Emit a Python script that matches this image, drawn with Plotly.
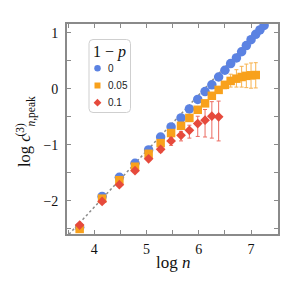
import plotly.graph_objects as go

# ---------------- data ----------------
log_n = [3.72, 4.15, 4.48, 4.78, 5.04, 5.27, 5.47, 5.66, 5.82, 5.98, 6.12,
         6.25, 6.38, 6.50, 6.61, 6.72, 6.82, 6.91, 7.00, 7.09, 7.17, 7.25]

p0_y = [-2.47, -1.92, -1.58, -1.33, -1.09, -0.86, -0.68, -0.52, -0.36, -0.19,
        -0.05, 0.07, 0.21, 0.33, 0.45, 0.55, 0.66, 0.77, 0.875, 0.97, 1.05, 1.13]

p005_y = [-2.50, -1.96, -1.63, -1.39, -1.16, -0.97, -0.79, -0.66, -0.52, -0.375,
          -0.26, -0.125, -0.02, 0.07, 0.14, 0.18, 0.21, 0.23, 0.24, 0.245]
p005_err_up = [0.02, 0.02, 0.02, 0.02, 0.02, 0.02, 0.02, 0.02, 0.02, 0.02,
               0.03, 0.03, 0.04, 0.06, 0.12, 0.16, 0.19, 0.21, 0.22, 0.22]
p005_err_dn = [0.02, 0.02, 0.02, 0.02, 0.02, 0.02, 0.02, 0.02, 0.02, 0.02,
               0.03, 0.03, 0.04, 0.07, 0.11, 0.15, 0.18, 0.21, 0.23, 0.23]

p01_y = [-2.43, -2.01, -1.71, -1.46, -1.25, -1.08, -0.93, -0.83, -0.74, -0.62,
         -0.56, -0.49, -0.50]
p01_err_up = [0.02, 0.02, 0.02, 0.03, 0.03, 0.04, 0.06, 0.07, 0.09, 0.13, 0.19, 0.26, 0.28]
p01_err_dn = [0.02, 0.02, 0.02, 0.03, 0.03, 0.05, 0.08, 0.10, 0.14, 0.23, 0.30, 0.39, 0.43]

fit_slope = 1.0
fit_intercept = -6.11
fit_x = [3.45, 7.6]

legend_labels = ["0", "0.05", "0.1"]
legend_title = "1 − <i>p</i>"

x_tickvals = [3.5, 4, 4.5, 5, 5.5, 6, 6.5, 7, 7.5]
x_ticktext = ["", "4", "", "5", "", "6", "", "7", ""]
y_tickvals = [-2.5, -2, -1.5, -1, -0.5, 0, 0.5, 1]
y_ticktext = ["", "−2", "", "−1", "", "0", "", "1"]

# ---------------- style ----------------
OFF = 8  # page body margin
W, H = 291 - OFF, 286 - OFF
# target plot box in page pixels: x 67..278, y 24..234
ML, MT = 67 - OFF, 24 - OFF
MR, MB = W - (278 - OFF), H - (234 - OFF)
PW, PH = W - ML - MR, H - MT - MB

BLUE = "#5B82E2"
ORANGE = "#F8A11C"
RED = "#E64A3C"
ORANGE_ERR = "#F7B24E"
RED_ERR = "#EC6C62"
FRAME = "#8a8a8a"
SERIF = "Liberation Serif"
SANS = "Liberation Sans"

fig = go.Figure()

fit_y = [fit_slope * v + fit_intercept for v in fit_x]
fig.add_trace(go.Scatter(x=fit_x, y=fit_y, mode="lines",
                         line=dict(color="#8c8c8c", width=1.5, dash="2.5px,2.5px"),
                         showlegend=False, hoverinfo="skip"))

fig.add_trace(go.Scatter(x=log_n[:len(p0_y)], y=p0_y, mode="markers",
                         marker=dict(symbol="circle", size=9.5, color=BLUE),
                         showlegend=False))

fig.add_trace(go.Scatter(x=log_n[:len(p005_y)], y=p005_y, mode="markers",
                         marker=dict(symbol="square", size=8.5, color=ORANGE),
                         error_y=dict(type="data", symmetric=False, array=p005_err_up,
                                      arrayminus=p005_err_dn, color=ORANGE_ERR,
                                      thickness=1, width=2),
                         showlegend=False))

fig.add_trace(go.Scatter(x=log_n[:len(p01_y)], y=p01_y, mode="markers",
                         marker=dict(symbol="diamond", size=7.5, color=RED),
                         error_y=dict(type="data", symmetric=False, array=p01_err_up,
                                      arrayminus=p01_err_dn, color=RED_ERR,
                                      thickness=1, width=2),
                         showlegend=False))

# page-pixel helpers
def pxp(x):
    return (x - OFF - ML) / PW

def pyp(y):
    return 1 - (y - OFF - MT) / PH

def pxa(x):
    return x - OFF - ML

def pya(y):
    return y - OFF - MT

# ----- hand-built legend; markers on an overlay axis measured in pixels
leg_sym = ["circle", "square", "diamond"]
leg_col = [BLUE, ORANGE, RED]
leg_size = [6.5, 6, 6]
leg_ys = [68.3, 85.5, 102.7]
for s, c, sz, yy, lab in zip(leg_sym, leg_col, leg_size, leg_ys, legend_labels):
    fig.add_trace(go.Scatter(x=[pxa(97.5)], y=[pya(yy)], mode="markers",
                             marker=dict(symbol=s, size=sz, color=c),
                             xaxis="x2", yaxis="y2", showlegend=False, hoverinfo="skip"))
    fig.add_annotation(x=pxp(105.5), y=pyp(yy), xref="paper", yref="paper", text=lab,
                       showarrow=False, xanchor="left", yanchor="middle",
                       font=dict(family=SANS, size=10, color="#222"))

fig.add_annotation(x=pxp(109), y=pyp(51.5), xref="paper", yref="paper", text=legend_title,
                   showarrow=False, xanchor="center", yanchor="middle",
                   font=dict(family=SERIF, size=16, color="#111"))

x0, x1, y0, y1, r = pxa(89), pxa(130.5), pya(39.5), pya(112.5), 4
path = (f"M {x0+r},{y0} L {x1-r},{y0} Q {x1},{y0} {x1},{y0+r} L {x1},{y1-r} "
        f"Q {x1},{y1} {x1-r},{y1} L {x0+r},{y1} Q {x0},{y1} {x0},{y1-r} "
        f"L {x0},{y0+r} Q {x0},{y0} {x0+r},{y0} Z")
fig.add_shape(type="path", path=path, xref="x2", yref="y2",
              line=dict(color="#cfcfcf", width=1), fillcolor="rgba(0,0,0,0)")

# ----- axis titles
fig.add_annotation(x=pxp(172.5), y=pyp(262), xref="paper", yref="paper",
                   text="log\u00a0<i>n</i>", showarrow=False, xanchor="center", yanchor="middle",
                   font=dict(family=SERIF, size=17, color="#111"))
fig.add_annotation(x=pxp(24.5), y=pyp(169), xref="paper", yref="paper",
                   text="log <i>c</i>", showarrow=False, textangle=-90,
                   xanchor="center", yanchor="bottom",
                   font=dict(family=SERIF, size=16.5, color="#111"))
fig.add_annotation(x=pxp(19.5), y=pyp(139), xref="paper", yref="paper",
                   text="(3)", showarrow=False, textangle=-90,
                   xanchor="center", yanchor="bottom",
                   font=dict(family=SERIF, size=11.5, color="#111"))
fig.add_annotation(x=pxp(31), y=pyp(129), xref="paper", yref="paper",
                   text="<i>n</i>,peak", showarrow=False, textangle=-90,
                   xanchor="center", yanchor="bottom",
                   font=dict(family=SERIF, size=11.5, color="#111"))

axis_common = dict(showline=True, linecolor=FRAME, linewidth=1.7, mirror="ticks",
                   ticks="inside", ticklen=4, tickwidth=1.2, tickcolor=FRAME,
                   showgrid=False, zeroline=False, automargin=False,
                   tickfont=dict(family=SERIF, size=14, color="#111"))

fig.update_layout(
    width=W, height=H,
    margin=dict(l=ML, r=MR, t=MT, b=MB, autoexpand=False),
    paper_bgcolor="white", plot_bgcolor="white",
    showlegend=False,
    xaxis=dict(range=[3.478, 7.516], tickvals=x_tickvals, ticktext=x_ticktext,
               ticklabelstandoff=1, **axis_common),
    yaxis=dict(range=[-2.59, 1.155], tickvals=y_tickvals, ticktext=y_ticktext,
               ticklabelstandoff=4, **axis_common),
    xaxis2=dict(overlaying="x", anchor="y2", range=[0, PW], visible=False, fixedrange=True),
    yaxis2=dict(overlaying="y", anchor="x2", range=[PH, 0], visible=False, fixedrange=True),
)

fig.write_html("out.html")
